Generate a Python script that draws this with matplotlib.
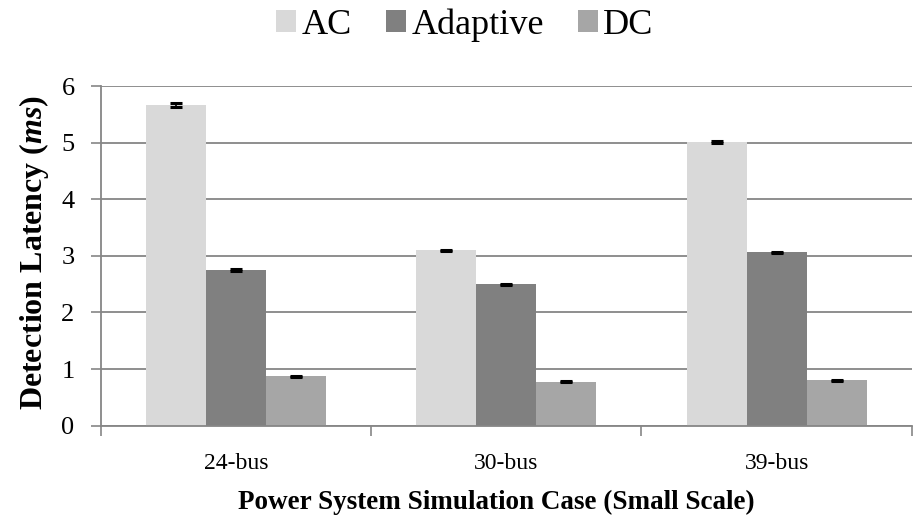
import matplotlib
matplotlib.use("Agg")
import matplotlib.pyplot as plt
import numpy as np

categories = ["24-bus", "30-bus", "39-bus"]
series_names = ["AC", "Adaptive", "DC"]
ac_values = [5.67, 3.10, 5.01]
adaptive_values = [2.75, 2.50, 3.06]
dc_values = [0.87, 0.78, 0.80]
ac_err = [0.035, 0.01, 0.01]
adaptive_err = [0.01, 0.01, 0.01]
dc_err = [0.01, 0.01, 0.01]
y_ticks = [0, 1, 2, 3, 4, 5, 6]

plt.rcParams['font.family'] = ['Liberation Serif', 'DejaVu Serif']
plt.rcParams['mathtext.fontset'] = 'custom'
plt.rcParams['mathtext.rm'] = 'Liberation Serif'
plt.rcParams['mathtext.bfit'] = 'Liberation Serif:italic:bold'
plt.rcParams['mathtext.it'] = 'Liberation Serif:italic'
plt.rcParams['mathtext.bf'] = 'Liberation Serif:bold'

fig = plt.figure(figsize=(9.18, 5.23), dpi=100)
ax = fig.add_axes([101/918, (523-425.7)/523, (911.7-101)/918, (425.7-86)/523])

colors = ["#D9D9D9", "#808080", "#A6A6A6"]
values = [ac_values, adaptive_values, dc_values]
errs = [ac_err, adaptive_err, dc_err]
x = np.arange(len(categories))
w = 0.222
for i, (vals, er, c, name) in enumerate(zip(values, errs, colors, series_names)):
    pos = x + (i - 1) * w
    ax.bar(pos, vals, width=w, color=c, label=name, zorder=2)
    ax.errorbar(pos, vals, yerr=er, fmt='none', ecolor='black', elinewidth=1.2,
                capsize=4.5, capthick=2.2, zorder=3)

ax.set_xlim(-0.5, 2.5)
ax.set_ylim(0, 6)
ax.set_yticks(y_ticks)
ax.set_yticklabels([str(t) for t in y_ticks], fontsize=19)
ax.set_xticks(x)
ax.set_xticklabels(categories, fontsize=17)
ax.set_xticks(np.arange(-0.5, 3.0, 1.0), minor=True)
ax.tick_params(axis='x', which='major', length=0, pad=20)
ax.tick_params(axis='x', which='minor', length=7, color='#868686', width=1.2)
ax.tick_params(axis='y', length=7, color='#868686', width=1.2, pad=12)

ax.yaxis.grid(True, color='#868686', linewidth=1.3, zorder=0)
ax.set_axisbelow(True)
for s in ['top', 'right']:
    ax.spines[s].set_visible(False)
for s in ['left', 'bottom']:
    ax.spines[s].set_color('#868686')
    ax.spines[s].set_linewidth(1.3)

ax.set_ylabel(r"Detection Latency ($\mathbfit{ms}$)", fontsize=23, fontweight='bold')
ax.yaxis.set_label_coords(-(101-51)/810.7, 0.51)
ax.set_xlabel("Power System Simulation Case (Small Scale)", fontsize=19.5, fontweight='bold')
ax.xaxis.set_label_coords((496.5-101)/810.7, -(502-425.7)/339.7, transform=ax.transAxes)
ax.xaxis.label.set_verticalalignment('center')

leg = fig.legend(loc='center', bbox_to_anchor=(465/918, 1 - 25/523), ncol=3, frameon=False,
                 fontsize=26, handlelength=0.55, handleheight=0.55, handletextpad=0.15,
                 columnspacing=0.95)

fig.savefig("out.png", dpi=100)
